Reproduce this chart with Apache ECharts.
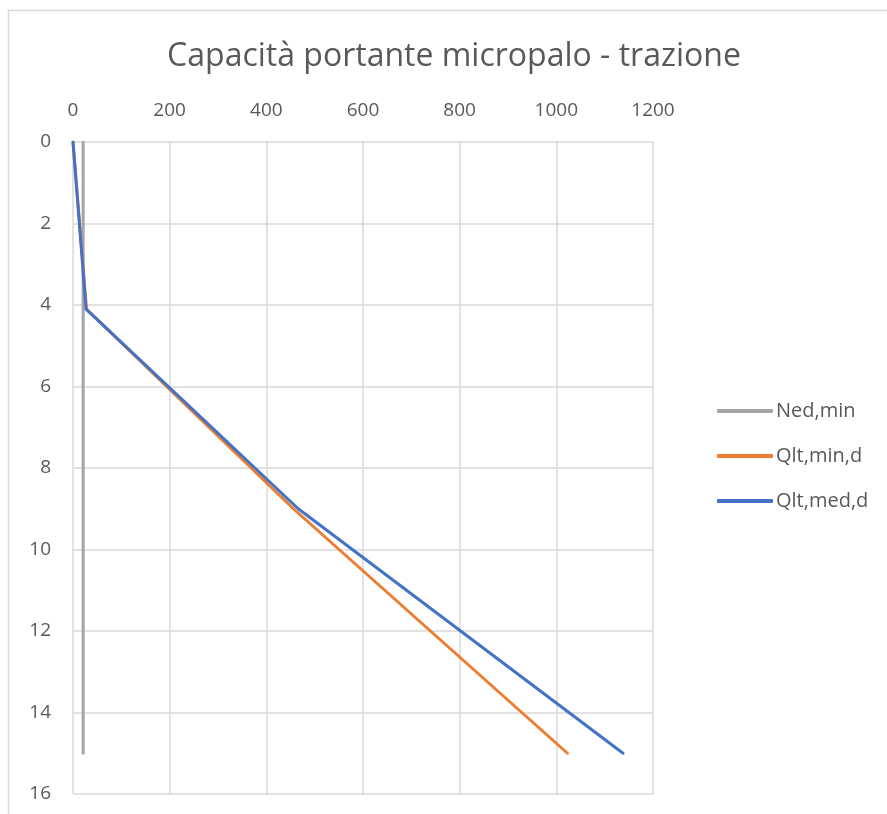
<!DOCTYPE html>
<html>
<head>
<meta charset="utf-8">
<script src="https://cdn.jsdelivr.net/npm/echarts@6/dist/echarts.min.js"></script>
<style>
  html, body { margin: 0; padding: 0; background: #ffffff; }
  #chart { width: 887px; height: 814px; }
</style>
</head>
<body>
<div id="chart"></div>
<script>
// Axial load (kN) against depth (m) for the micropile in tension
const depthNed = [0, 15];
const loadNed = [21, 21];

const depthQltMin = [0, 4.1, 9, 15];
const loadQltMin = [0, 28, 456, 1023];

const depthQltMed = [0, 4.1, 9, 15];
const loadQltMed = [0, 27, 466, 1138];

const seriesNames = ['Ned,min', 'Qlt,min,d', 'Qlt,med,d'];
const seriesColors = ['#a5a5a5', '#ed7d31', '#4472c4'];

const pairs = (xs, ys) => xs.map((x, i) => [x, ys[i]]);

const FONT = 'Open Sans';
const gridColor = '#d9d9d9';
const textColor = '#595959';

const chart = echarts.init(document.getElementById('chart'), null, { renderer: 'canvas' });

chart.setOption({
  animation: false,
  backgroundColor: '#ffffff',
  title: {
    text: 'Capacità portante micropalo - trazione',
    left: 449,
    textAlign: 'center',
    top: 36,
    textStyle: { fontFamily: FONT, fontSize: 32, fontWeight: 'normal', color: textColor }
  },
  graphic: [{
    type: 'rect',
    shape: { x: 8.5, y: 10.5, width: 900, height: 900 },
    style: { fill: 'none', stroke: gridColor, lineWidth: 1.5 },
    silent: true
  }],
  grid: { left: 73, right: 234, top: 142, bottom: 20, containLabel: false },
  legend: {
    orient: 'vertical',
    left: 712,
    top: 396,
    itemGap: 25,
    itemWidth: 56,
    itemHeight: 4,
    icon: 'roundRect',
    textStyle: { fontFamily: FONT, fontSize: 20, color: textColor, lineHeight: 20, padding: [0, 0, 0, -2] },
    data: seriesNames
  },
  xAxis: {
    type: 'value',
    position: 'top',
    min: 0,
    max: 1200,
    interval: 200,
    axisLine: { show: false },
    axisTick: { show: false },
    axisLabel: { fontFamily: FONT, fontSize: 19, color: textColor, margin: 22, formatter: v => String(v) },
    splitLine: { show: true, lineStyle: { color: gridColor, width: 1.5 } }
  },
  yAxis: {
    type: 'value',
    inverse: true,
    min: 0,
    max: 16,
    interval: 2,
    axisLine: { show: false },
    axisTick: { show: false },
    axisLabel: { fontFamily: FONT, fontSize: 19, color: textColor, margin: 22, formatter: v => String(v) },
    splitLine: { show: true, lineStyle: { color: gridColor, width: 1.5 } }
  },
  series: [
    {
      name: seriesNames[0], type: 'line', showSymbol: false, symbol: 'none',
      data: pairs(loadNed, depthNed),
      lineStyle: { color: seriesColors[0], width: 3, cap: 'round' },
      itemStyle: { color: seriesColors[0] }
    },
    {
      name: seriesNames[1], type: 'line', showSymbol: false, symbol: 'none',
      data: pairs(loadQltMin, depthQltMin),
      lineStyle: { color: seriesColors[1], width: 3, cap: 'round' },
      itemStyle: { color: seriesColors[1] }
    },
    {
      name: seriesNames[2], type: 'line', showSymbol: false, symbol: 'none',
      data: pairs(loadQltMed, depthQltMed),
      lineStyle: { color: seriesColors[2], width: 3, cap: 'round' },
      itemStyle: { color: seriesColors[2] }
    }
  ]
});
</script>
</body>
</html>
